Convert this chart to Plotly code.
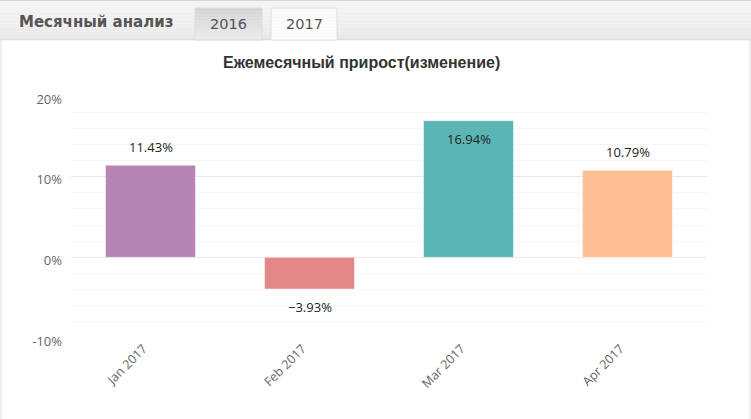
import plotly.graph_objects as go

# ---- data ----
categories = ["Jan 2017", "Feb 2017", "Mar 2017", "Apr 2017"]
growth_pct = [11.43, -3.93, 16.94, 10.79]
bar_colors = ["#b586b3", "#e38886", "#5bb5b5", "#ffbe93"]
y_tick_vals = [-10, 0, 10, 20]
y_tick_text = ["-10%", "0%", "10%", "20%"]
chart_title = "Ежемесячный прирост(изменение)"
panel_title = "Месячный анализ"
tab_labels = ["2016", "2017"]

W, H = 751, 419
L, R, T, B = 71, 707, 96, 338
Y_MIN, Y_MAX = -10, 20


def px(x):
    return (x - L) / (R - L)


def py(y):
    return (B - y) / (B - T)


fig = go.Figure()
fig.add_trace(go.Bar(
    x=categories,
    y=growth_pct,
    marker=dict(color=bar_colors, line=dict(color="rgba(255,255,255,0.5)", width=1)),
    hoverinfo="skip",
    showlegend=False,
))

label_font = dict(family="Open Sans, Noto Sans, sans-serif", size=13, color="#222")
annotations = []
for c, v in zip(categories, growth_pct):
    inside = v + 4 > Y_MAX
    if v < 0 or inside:
        shift = -18
    else:
        shift = 18
    annotations.append(dict(
        x=c, y=v, xref="x", yref="y", text=f"{v:.2f}%".replace("-", "−"),
        showarrow=False, yanchor="middle", yshift=shift, font=label_font,
    ))

# chart title
annotations.append(dict(
    x=px(361), y=py(63), xref="paper", yref="paper", text=f"<b>{chart_title}</b>",
    showarrow=False, xanchor="center", yanchor="middle",
    font=dict(family="Liberation Sans, Arial, sans-serif", size=16, color="#333"),
))
# panel header title
annotations.append(dict(
    x=px(17), y=py(22), xref="paper", yref="paper", text=f"<b>{panel_title}</b>",
    showarrow=False, xanchor="left", yanchor="middle",
    font=dict(family="DejaVu Sans, Verdana, sans-serif", size=15, color="#555"),
))
tab_boxes = [(195, 262), (271, 337)]
for (x0, x1), lab in zip(tab_boxes, tab_labels):
    annotations.append(dict(
        x=px((x0 + x1) / 2), y=py(24), xref="paper", yref="paper", text=lab,
        showarrow=False, xanchor="center", yanchor="middle",
        font=dict(family="DejaVu Sans, Tahoma, sans-serif", size=14.5, color="#555"),
    ))

shapes = []


def rect(x0, y0, x1, y1, fill, line_color=None, lw=0, layer="above"):
    shapes.append(dict(
        type="rect", xref="paper", yref="paper",
        x0=px(x0), x1=px(x1), y0=py(y0), y1=py(y1),
        fillcolor=fill, line=dict(color=line_color or "rgba(0,0,0,0)", width=lw),
        layer=layer,
    ))


def gradient(x0, y0, x1, y1, c_top, c_bot, n=10):
    for i in range(n):
        t = i / (n - 1)
        col = tuple(round(a + (b - a) * t) for a, b in zip(c_top, c_bot))
        ya = y0 + (y1 - y0) * i / n
        yb = y0 + (y1 - y0) * (i + 1) / n
        rect(x0, ya, x1, yb, f"rgb{col}")


def hline(x0, x1, y, color, w=1):
    shapes.append(dict(type="line", xref="paper", yref="paper",
                       x0=px(x0), x1=px(x1), y0=py(y), y1=py(y),
                       line=dict(color=color, width=w), layer="above"))


def vline(x, y0, y1, color, w=1):
    shapes.append(dict(type="line", xref="paper", yref="paper",
                       x0=px(x), x1=px(x), y0=py(y0), y1=py(y1),
                       line=dict(color=color, width=w), layer="above"))


# header bar
gradient(0, 0, W, 39, (245, 245, 245), (234, 234, 234))
hline(0, W, 0.5, "#d6d6d6")
hline(0, W, 39.5, "#dcdcdc", 1.5)
# tabs
gradient(195, 8, 262, 40, (212, 212, 212), (234, 234, 234))
shapes.append(dict(type="rect", xref="paper", yref="paper",
                   x0=px(195), x1=px(262), y0=py(8), y1=py(40),
                   line=dict(color="#dcdcdc", width=1), fillcolor="rgba(0,0,0,0)", layer="above"))
gradient(271, 8, 337, 40, (250, 250, 250), (255, 255, 255))
shapes.append(dict(type="rect", xref="paper", yref="paper",
                   x0=px(271), x1=px(337), y0=py(8), y1=py(40),
                   line=dict(color="#dcdcdc", width=1), fillcolor="rgba(0,0,0,0)", layer="above"))
# panel borders
vline(1, 40, H, "#dddddd")
vline(750, 40, H, "#dddddd")

fig.update_layout(
    width=W, height=H,
    margin=dict(l=L, r=W - R, t=T, b=H - B, pad=0),
    paper_bgcolor="white", plot_bgcolor="white",
    bargap=0.434,
    showlegend=False,
    annotations=annotations,
    shapes=shapes,
    xaxis=dict(
        type="category", tickangle=-45, showgrid=False, zeroline=False, showline=False,
        ticks="", ticklabelshift=-7,
        tickfont=dict(family="Open Sans, Noto Sans, sans-serif", size=12.5, color="#666"),
        fixedrange=True,
    ),
    yaxis=dict(
        range=[Y_MIN, Y_MAX], tickvals=y_tick_vals, ticktext=y_tick_text,
        showgrid=True, gridcolor="#e8e8e8", gridwidth=1,
        zeroline=True, zerolinecolor="#e8e8e8", zerolinewidth=1,
        minor=dict(dtick=2, tick0=0, showgrid=True, gridcolor="#f6f6f6", gridwidth=1),
        showline=False, ticks="", ticklabelstandoff=8, ticklabelshift=3,
        tickfont=dict(family="Open Sans, Noto Sans, sans-serif", size=13, color="#666"),
        fixedrange=True,
    ),
)

fig.write_html("out.html", config={"displayModeBar": False})
